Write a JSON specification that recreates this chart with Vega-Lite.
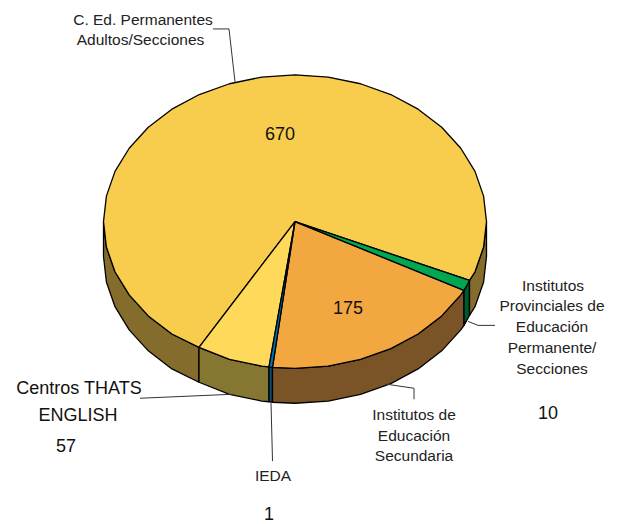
{"$schema":"https://vega.github.io/schema/vega-lite/v6.json","width":621,"height":524,"autosize":{"type":"fit","contains":"padding"},"padding":0,"background":"white","view":{"stroke":null},
"config":{"axis":{"domain":false,"grid":false,"ticks":false,"labels":false,"title":null}},
"layer":[
{"data":{"values":[
{"p":"a side main left","i":1,"x":199,"y":348},{"p":"a side main left","i":2,"x":171.9,"y":334.6},{"p":"a side main left","i":3,"x":148.3,"y":316.5},{"p":"a side main left","i":4,"x":129.2,"y":295.5},{"p":"a side main left","i":5,"x":115,"y":272.3},{"p":"a side main left","i":6,"x":106.4,"y":247.5},{"p":"a side main left","i":7,"x":103.5,"y":222},{"p":"a side main left","i":8,"x":103.5,"y":257},{"p":"a side main left","i":9,"x":106.4,"y":282.5},{"p":"a side main left","i":10,"x":115,"y":307.3},{"p":"a side main left","i":11,"x":129.2,"y":330.5},{"p":"a side main left","i":12,"x":148.3,"y":351.5},{"p":"a side main left","i":13,"x":171.9,"y":369.6},{"p":"a side main left","i":14,"x":199,"y":383},{"p":"a side main left","i":15,"x":199,"y":348},
{"p":"b side light","i":1,"x":269,"y":367.5},{"p":"b side light","i":2,"x":261.8,"y":366.8},{"p":"b side light","i":3,"x":229.5,"y":360.1},{"p":"b side light","i":4,"x":199,"y":348},{"p":"b side light","i":5,"x":199,"y":383},{"p":"b side light","i":6,"x":229.5,"y":395.1},{"p":"b side light","i":7,"x":261.8,"y":401.8},{"p":"b side light","i":8,"x":269,"y":402.5},{"p":"b side light","i":9,"x":269,"y":367.5},
{"p":"c side blue","i":1,"x":272.5,"y":368},{"p":"c side blue","i":2,"x":269,"y":367.5},{"p":"c side blue","i":3,"x":269,"y":402.5},{"p":"c side blue","i":4,"x":272.5,"y":403},{"p":"c side blue","i":5,"x":272.5,"y":368},
{"p":"d side brown","i":1,"x":464,"y":291},{"p":"d side brown","i":2,"x":460.8,"y":295.5},{"p":"d side brown","i":3,"x":441.7,"y":316.5},{"p":"d side brown","i":4,"x":418.1,"y":334.6},{"p":"d side brown","i":5,"x":390.8,"y":349.3},{"p":"d side brown","i":6,"x":360.5,"y":360.1},{"p":"d side brown","i":7,"x":328.2,"y":366.8},{"p":"d side brown","i":8,"x":295,"y":369},{"p":"d side brown","i":9,"x":272.5,"y":368},{"p":"d side brown","i":10,"x":272.5,"y":403},{"p":"d side brown","i":11,"x":295,"y":404},{"p":"d side brown","i":12,"x":328.2,"y":401.8},{"p":"d side brown","i":13,"x":360.5,"y":395.1},{"p":"d side brown","i":14,"x":390.8,"y":384.3},{"p":"d side brown","i":15,"x":418.1,"y":369.6},{"p":"d side brown","i":16,"x":441.7,"y":351.5},{"p":"d side brown","i":17,"x":460.8,"y":330.5},{"p":"d side brown","i":18,"x":464,"y":326},{"p":"d side brown","i":19,"x":464,"y":291},
{"p":"e side green","i":1,"x":469.5,"y":281},{"p":"e side green","i":2,"x":464,"y":291},{"p":"e side green","i":3,"x":464,"y":326},{"p":"e side green","i":4,"x":469.5,"y":316},{"p":"e side green","i":5,"x":469.5,"y":281},
{"p":"f side main right","i":1,"x":486.5,"y":222},{"p":"f side main right","i":2,"x":483.6,"y":247.5},{"p":"f side main right","i":3,"x":475,"y":272.3},{"p":"f side main right","i":4,"x":469.5,"y":281},{"p":"f side main right","i":5,"x":469.5,"y":316},{"p":"f side main right","i":6,"x":475,"y":307.3},{"p":"f side main right","i":7,"x":483.6,"y":282.5},{"p":"f side main right","i":8,"x":486.5,"y":257},{"p":"f side main right","i":9,"x":486.5,"y":222},
{"p":"g top main","i":1,"x":295,"y":222},{"p":"g top main","i":2,"x":469.5,"y":281},{"p":"g top main","i":3,"x":475,"y":272.3},{"p":"g top main","i":4,"x":483.6,"y":247.5},{"p":"g top main","i":5,"x":486.5,"y":222},{"p":"g top main","i":6,"x":483.6,"y":196.5},{"p":"g top main","i":7,"x":475,"y":171.7},{"p":"g top main","i":8,"x":460.8,"y":148.5},{"p":"g top main","i":9,"x":441.7,"y":127.5},{"p":"g top main","i":10,"x":418.1,"y":109.4},{"p":"g top main","i":11,"x":390.8,"y":94.7},{"p":"g top main","i":12,"x":360.5,"y":83.9},{"p":"g top main","i":13,"x":328.2,"y":77.2},{"p":"g top main","i":14,"x":295,"y":75},{"p":"g top main","i":15,"x":261.8,"y":77.2},{"p":"g top main","i":16,"x":229.5,"y":83.9},{"p":"g top main","i":17,"x":199.3,"y":94.7},{"p":"g top main","i":18,"x":171.9,"y":109.4},{"p":"g top main","i":19,"x":148.3,"y":127.5},{"p":"g top main","i":20,"x":129.2,"y":148.5},{"p":"g top main","i":21,"x":115,"y":171.7},{"p":"g top main","i":22,"x":106.4,"y":196.5},{"p":"g top main","i":23,"x":103.5,"y":222},{"p":"g top main","i":24,"x":106.4,"y":247.5},{"p":"g top main","i":25,"x":115,"y":272.3},{"p":"g top main","i":26,"x":129.2,"y":295.5},{"p":"g top main","i":27,"x":148.3,"y":316.5},{"p":"g top main","i":28,"x":171.9,"y":334.6},{"p":"g top main","i":29,"x":199,"y":348},{"p":"g top main","i":30,"x":295,"y":222},
{"p":"h top light","i":1,"x":295,"y":222},{"p":"h top light","i":2,"x":269,"y":367.5},{"p":"h top light","i":3,"x":261.8,"y":366.8},{"p":"h top light","i":4,"x":229.5,"y":360.1},{"p":"h top light","i":5,"x":199,"y":348},{"p":"h top light","i":6,"x":295,"y":222},
{"p":"i top orange","i":1,"x":295,"y":222},{"p":"i top orange","i":2,"x":464,"y":291},{"p":"i top orange","i":3,"x":460.8,"y":295.5},{"p":"i top orange","i":4,"x":441.7,"y":316.5},{"p":"i top orange","i":5,"x":418.1,"y":334.6},{"p":"i top orange","i":6,"x":390.8,"y":349.3},{"p":"i top orange","i":7,"x":360.5,"y":360.1},{"p":"i top orange","i":8,"x":328.2,"y":366.8},{"p":"i top orange","i":9,"x":295,"y":369},{"p":"i top orange","i":10,"x":272.5,"y":368},{"p":"i top orange","i":11,"x":295,"y":222},
{"p":"j top green","i":1,"x":295,"y":222},{"p":"j top green","i":2,"x":469.5,"y":281},{"p":"j top green","i":3,"x":464,"y":291},{"p":"j top green","i":4,"x":295,"y":222},
{"p":"k top blue","i":1,"x":295,"y":222},{"p":"k top blue","i":2,"x":272.5,"y":368},{"p":"k top blue","i":3,"x":269,"y":367.5},{"p":"k top blue","i":4,"x":295,"y":222}
]},
"mark":{"type":"line","stroke":"#000000","strokeWidth":1.3,"strokeJoin":"round"},
"encoding":{
"x":{"field":"x","type":"quantitative","scale":{"domain":[0,621],"nice":false,"zero":false},"axis":null},
"y":{"field":"y","type":"quantitative","scale":{"domain":[524,0],"nice":false,"zero":false},"axis":null},
"order":{"field":"i","type":"quantitative"},
"fill":{"field":"p","type":"nominal","legend":null,"scale":{"domain":["a side main left","b side light","c side blue","d side brown","e side green","f side main right","g top main","h top light","i top orange","j top green","k top blue"],"range":["#846C2C","#857632","#0B4A73","#7A5427","#00592C","#846C2C","#F8CD4D","#FFD959","#F2A740","#00A651","#0071B8"]}}
}},
{"data":{"values":[
{"l":"a","i":1,"x":213,"y":29},{"l":"a","i":2,"x":229,"y":29},{"l":"a","i":3,"x":235,"y":82},
{"l":"b","i":1,"x":140,"y":399},{"l":"b","i":2,"x":233,"y":395},
{"l":"c","i":1,"x":271,"y":403},{"l":"c","i":2,"x":272.5,"y":462},
{"l":"d","i":1,"x":387,"y":385},{"l":"d","i":2,"x":414,"y":389},{"l":"d","i":3,"x":414,"y":400},
{"l":"e","i":1,"x":468,"y":322},{"l":"e","i":2,"x":478,"y":326},{"l":"e","i":3,"x":495,"y":326}
]},
"mark":{"type":"line","stroke":"#333333","strokeWidth":1},
"encoding":{
"x":{"field":"x","type":"quantitative","scale":{"domain":[0,621],"nice":false,"zero":false},"axis":null},
"y":{"field":"y","type":"quantitative","scale":{"domain":[524,0],"nice":false,"zero":false},"axis":null},
"detail":{"field":"l"},
"order":{"field":"i","type":"quantitative"}
}},
{"data":{"values":[
{"t":"C. Ed. Permanentes","x":143,"y":20},{"t":"Adultos/Secciones","x":140.5,"y":40},
{"t":"Institutos","x":553,"y":287},{"t":"Provinciales de","x":552,"y":307},{"t":"Educación","x":552,"y":328},{"t":"Permanente/","x":552,"y":349},{"t":"Secciones","x":552,"y":370},
{"t":"Institutos de","x":414,"y":416},{"t":"Educación","x":414,"y":437},{"t":"Secundaria","x":414,"y":457},
{"t":"IEDA","x":273,"y":477}
]},
"mark":{"type":"text","font":"Liberation Sans","fontSize":15.5,"color":"#222222","align":"center","baseline":"middle"},
"encoding":{
"x":{"field":"x","type":"quantitative","scale":{"domain":[0,621],"nice":false,"zero":false},"axis":null},
"y":{"field":"y","type":"quantitative","scale":{"domain":[524,0],"nice":false,"zero":false},"axis":null},
"text":{"field":"t"}
}},
{"data":{"values":[
{"t":"670","x":280,"y":135.5},{"t":"175","x":348,"y":309.5},{"t":"10","x":548,"y":414.5},{"t":"1","x":269,"y":515.5},{"t":"57","x":66,"y":447.5},{"t":"Centros THATS","x":79,"y":390},{"t":"ENGLISH","x":78,"y":417}
]},
"mark":{"type":"text","font":"Liberation Sans","fontSize":18,"color":"#111111","align":"center","baseline":"middle"},
"encoding":{
"x":{"field":"x","type":"quantitative","scale":{"domain":[0,621],"nice":false,"zero":false},"axis":null},
"y":{"field":"y","type":"quantitative","scale":{"domain":[524,0],"nice":false,"zero":false},"axis":null},
"text":{"field":"t"}
}}
]}
